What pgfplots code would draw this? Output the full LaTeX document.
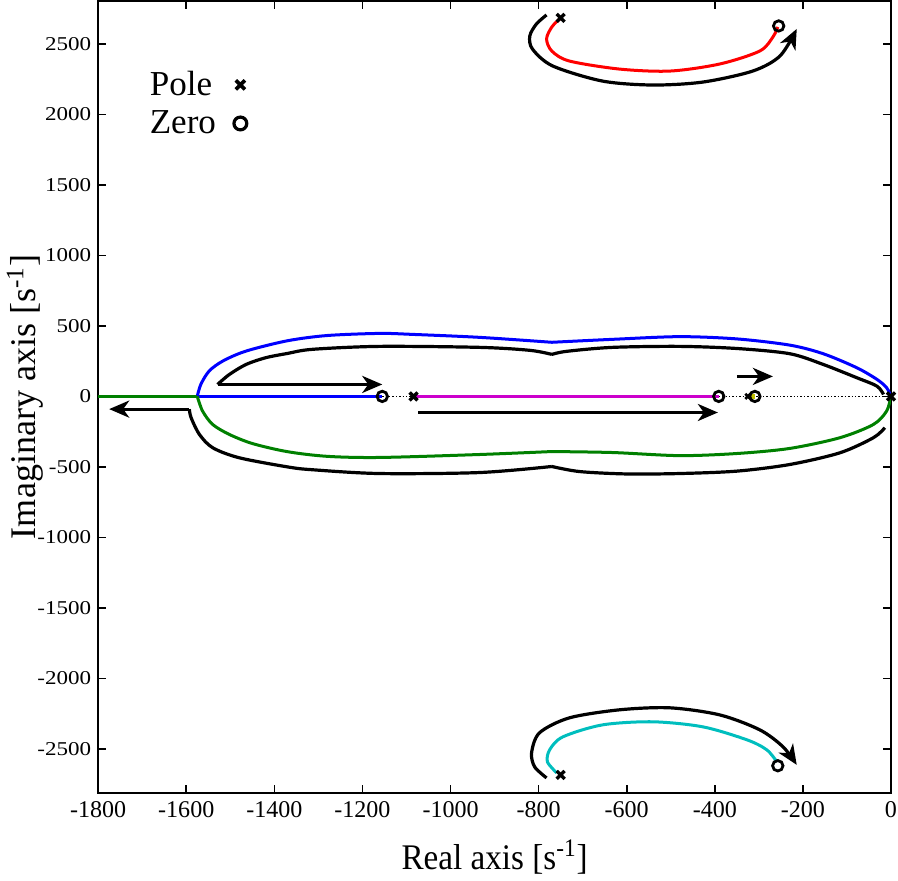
\documentclass[border=0pt]{standalone}
\usepackage{fontspec}
\setmainfont{Liberation Serif}
\usepackage{graphicx}
\usepackage{pgfplots}
\pgfplotsset{compat=1.18}
\usetikzlibrary{arrows.meta}
\definecolor{cgreen}{RGB}{0,128,0}
\definecolor{cmag}{RGB}{204,0,204}
\definecolor{ccyan}{RGB}{0,190,190}
\definecolor{cyel}{RGB}{190,190,0}
\begin{document}
\begin{tikzpicture}
\begin{axis}[
  scale only axis, width=396pt, height=395.5pt,
  xmin=-1800, xmax=0, ymin=-2812, ymax=2805,
  xtick={-1800,-1600,...,0}, ytick={-2500,-2000,...,2500},
  /pgf/number format/1000 sep={},
  /pgf/number format/assume math mode=true,
  xticklabel={\pgfmathprintnumber{\tick}},
  yticklabel={\scalebox{1}[0.85]{\pgfmathprintnumber{\tick}}},
  tick align=inside, major tick length=4pt,
  axis line style={line width=1pt}, tick style={line width=0.8pt, black},
  xticklabel style={font=\rmfamily\fontsize{12}{14}\selectfont, inner xsep=0.5pt, yshift=-1pt},
  yticklabel style={font=\rmfamily\fontsize{11.5}{14}\selectfont},
  xlabel={\scalebox{0.92}[1]{Real axis [s\textsuperscript{-1}]}},
  ylabel={Imaginary axis [s\textsuperscript{-1}]},
  label style={font=\rmfamily\fontsize{18}{20}\selectfont},
  xlabel style={yshift=-4pt},
  ylabel style={yshift=-10pt},
  legend style={at={(0.052,0.922)}, anchor=north west, draw=none, fill=none,
    font=\rmfamily\fontsize{17.5}{20}\selectfont, row sep=2pt, column sep=7pt},
  legend plot pos=right, legend cell align=left,
]
% dotted real-axis segments
\addplot[black, densely dotted, line width=0.7pt, forget plot] coordinates {(-1155,0) (-1084,0)};
\addplot[black, densely dotted, line width=0.7pt, forget plot] coordinates {(-391,0) (0,0)};
% magenta
\addplot[cmag, line width=1.5pt, forget plot] coordinates {(-1084,0) (-391,0)};
% yellow
\addplot[cyel, line width=2.5pt, forget plot] coordinates {(-325,0) (-309,0)};
% blue
\addplot[blue, line width=1.5pt, smooth, forget plot] coordinates {(0,0) (-10,62) (-32,121) (-78,204) (-154,303) (-230,364) (-350,408) (-480,424) (-632,405) (-770,384)};
\addplot[blue, line width=1.5pt, smooth, forget plot] coordinates {(-770,384) (-934,419) (-1086,440) (-1161,447) (-1280,432) (-1370,395) (-1464,322) (-1517,251) (-1548,180) (-1567,85) (-1575,0)};
\addplot[blue, line width=1.5pt, forget plot] coordinates {(-1575,0) (-1155,0)};
% green
\addplot[cgreen, line width=1.5pt, smooth, forget plot] coordinates {(0,0) (-10,-104) (-40,-199) (-116,-293) (-230,-369) (-350,-405) (-480,-420) (-632,-398) (-770,-391)};
\addplot[cgreen, line width=1.5pt, smooth, forget plot] coordinates {(-770,-391) (-934,-412) (-1161,-433) (-1280,-425) (-1370,-392) (-1449,-335) (-1502,-270) (-1540,-199) (-1563,-104) (-1575,0)};
\addplot[cgreen, line width=1.5pt, forget plot] coordinates {(-1575,0) (-1800,0)};
% red (top)
\addplot[red, line width=1.5pt, smooth, forget plot] coordinates {(-752,2678) (-770,2621) (-782,2536) (-770,2450) (-730,2379) (-616,2322) (-502,2308) (-389,2358) (-298,2450) (-268,2550) (-257,2621)};
% cyan (bottom)
\addplot[ccyan, line width=1.5pt, smooth, forget plot] coordinates {(-759,-2670) (-780,-2592) (-775,-2507) (-745,-2415) (-655,-2330) (-541,-2308) (-427,-2344) (-327,-2436) (-282,-2507) (-259,-2592)};
% black arrows
\addplot[black, line width=1.6pt, smooth, forget plot] coordinates {(-17,14) (-32,73) (-78,133) (-154,227) (-230,303) (-350,340) (-480,355) (-632,348) (-736,320) (-770,298)};
\addplot[black, line width=1.6pt, smooth, forget plot] coordinates {(-770,298) (-820,327) (-934,348) (-1161,355) (-1314,334) (-1370,305) (-1419,275) (-1464,227) (-1502,156) (-1529,85)};
\addplot[black, line width=1.6pt, forget plot, -{Stealth[length=10pt,width=8.5pt,inset=3pt]}] coordinates {(-1529,85) (-1155,85)};
\addplot[black, line width=1.6pt, smooth, forget plot] coordinates {(-14,-222) (-40,-293) (-116,-400) (-230,-483) (-350,-530) (-480,-547) (-600,-550) (-707,-533) (-770,-497)};
\addplot[black, line width=1.6pt, smooth, forget plot] coordinates {(-770,-497) (-934,-540) (-1161,-547) (-1314,-520) (-1370,-500) (-1480,-435) (-1540,-364) (-1570,-270) (-1589,-151) (-1593,-90)};
\addplot[black, line width=1.6pt, forget plot, -{Stealth[length=10pt,width=8.5pt,inset=3pt]}] coordinates {(-1593,-90) (-1775,-90)};
\addplot[black, line width=1.6pt, forget plot, -{Stealth[length=10pt,width=8.5pt,inset=3pt]}] coordinates {(-1073,-114) (-393,-114)};
\addplot[black, line width=1.6pt, forget plot, -{Stealth[length=10pt,width=8.5pt,inset=3pt]}] coordinates {(-350,142) (-268,142)};
\addplot[black, line width=1.6pt, smooth, forget plot, -{Stealth[length=10pt,width=8.5pt,inset=3pt]}] coordinates {(-782,2706) (-805,2642) (-820,2557) (-814,2464) (-768,2344) (-655,2237) (-541,2209) (-427,2230) (-314,2308) (-252,2415) (-214,2607)};
\addplot[black, line width=1.6pt, smooth, forget plot, -{Stealth[length=10pt,width=8.5pt,inset=3pt]}] coordinates {(-782,-2706) (-809,-2628) (-816,-2528) (-798,-2386) (-730,-2280) (-616,-2223) (-502,-2209) (-389,-2259) (-298,-2365) (-245,-2486) (-214,-2614)};
% poles and zeros
\addplot[only marks, mark=x, mark size=2.8pt, line width=1.7pt, black, forget plot] coordinates {(0,0) (-1084,0) (-750,2685) (-750,-2685)};
\addplot[only marks, mark=x, mark size=1.8pt, line width=1.3pt, black, forget plot] coordinates {(-325,0)};
\addplot[only marks, mark=o, mark size=2.6pt, line width=1.4pt, black, forget plot] coordinates {(-1155,0) (-391,0) (-309,0) (-255,2628) (-257,-2620)};
\addlegendimage{only marks, mark=x, mark size=3.2pt, line width=1.8pt, black}
\addlegendentry{Pole}
\addlegendimage{only marks, mark=o, mark size=3.2pt, line width=1.6pt, black}
\addlegendentry{Zero}
\end{axis}
\end{tikzpicture}
\end{document}
